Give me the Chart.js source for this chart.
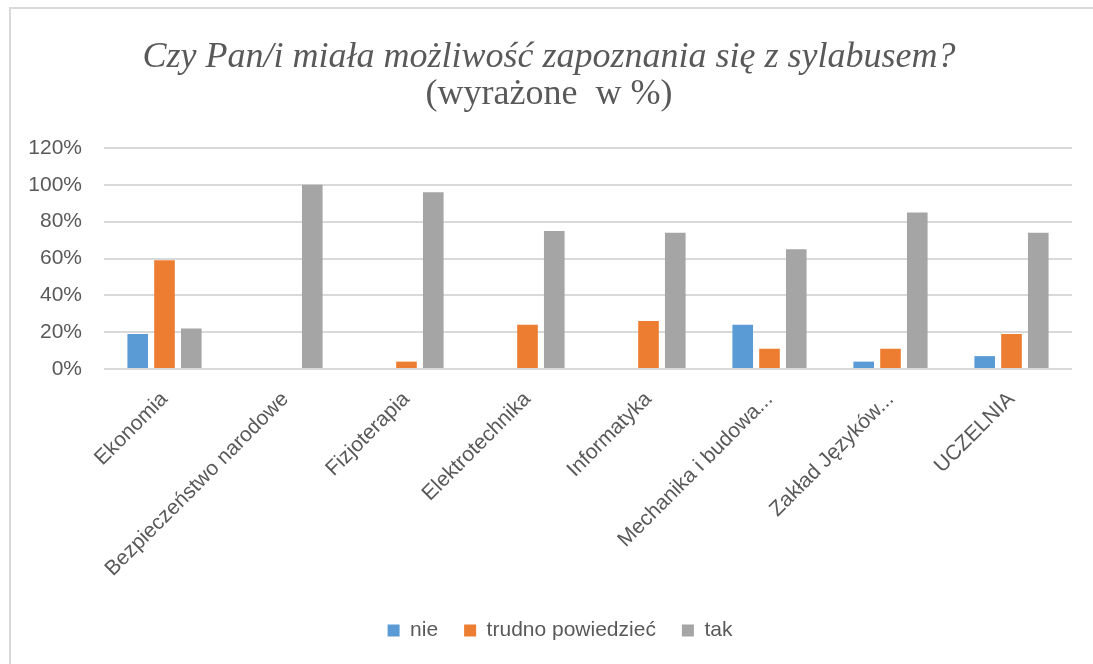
<!DOCTYPE html>
<html>
<head>
<meta charset="utf-8">
<script src="https://cdn.jsdelivr.net/npm/chart.js@4/dist/chart.umd.min.js"></script>
<style>
    html, body { margin: 0; padding: 0; background: #fff; }
    #wrap { position: relative; width: 1093px; height: 664px; overflow: hidden; }
    #frame { position: absolute; left: 9px; top: 7px; width: 1200px; height: 800px;
        border-left: 2px solid #d9d9d9; border-top: 2px solid #d9d9d9; }
    #chart { position: absolute; left: 0; top: 0; }
</style>
</head>
<body>
<div id="wrap">
    <div id="frame"></div>
    <canvas id="chart" width="1093" height="664"></canvas>
</div>
<script>
// chart data (values in %)
const categories = ['Ekonomia', 'Bezpieczeństwo narodowe', 'Fizjoterapia', 'Elektrotechnika',
    'Informatyka', 'Mechanika i budowa...', 'Zakład Języków...', 'UCZELNIA'];
const nie = [19, 0, 0, 0, 0, 24, 4, 7];
const trudno = [59, 0, 4, 24, 26, 11, 11, 19];
const tak = [22, 100, 96, 75, 74, 65, 85, 74];
const yTicks = [0, 20, 40, 60, 80, 100, 120];

const textColor = '#595959';
const gridColor = '#d9d9d9';

// legend in the original sits a little right of the plot centre
const legendShift = {
    id: 'legendShift',
    afterLayout(chart) {
        chart.legend.left += 11;
        chart.legend.right += 11;
    }
};

new Chart(document.getElementById('chart'), {
    type: 'bar',
    data: {
        labels: categories,
        datasets: [
            { label: 'nie', data: nie, backgroundColor: '#5B9BD5' },
            { label: 'trudno powiedzieć', data: trudno, backgroundColor: '#ED7D31' },
            { label: 'tak', data: tak, backgroundColor: '#A5A5A5' }
        ]
    },
    plugins: [legendShift],
    options: {
        responsive: false,
        animation: false,
        categoryPercentage: 0.664,
        barPercentage: 0.77,
        layout: {
            padding: { top: 40, right: 21, bottom: 13, left: 26 }
        },
        plugins: {
            title: {
                display: true,
                text: 'Czy Pan/i miała możliwość zapoznania się z sylabusem?',
                color: textColor,
                font: { family: 'Liberation Serif', size: 36, style: 'italic', weight: 'normal', lineHeight: 1 },
                padding: { top: 0, bottom: 0 }
            },
            subtitle: {
                display: true,
                text: '(wyrażone  w %)',
                color: textColor,
                font: { family: 'Liberation Serif', size: 36, weight: 'normal', lineHeight: 1 },
                padding: { top: 1, bottom: 35 }
            },
            legend: {
                position: 'bottom',
                labels: {
                    color: textColor,
                    font: { family: 'Liberation Sans', size: 21 },
                    boxWidth: 12,
                    boxHeight: 12,
                    padding: 26
                }
            },
            tooltip: { enabled: false }
        },
        scales: {
            x: {
                grid: { display: false },
                border: { display: false },
                ticks: {
                    color: textColor,
                    font: { family: 'Liberation Sans', size: 21 },
                    minRotation: 45,
                    maxRotation: 45,
                    padding: 10,
                    autoSkip: false
                },
                afterFit(scale) { scale.height = 225; }
            },
            y: {
                min: 0,
                max: 120,
                afterBuildTicks(scale) { scale.ticks = yTicks.map(v => ({ value: v })); },
                grid: { color: gridColor, lineWidth: 2, drawTicks: false },
                border: { display: false },
                ticks: {
                    color: textColor,
                    font: { family: 'Liberation Sans', size: 21 },
                    padding: 22,
                    callback: v => v + '%'
                },
                afterFit(scale) { scale.width = 78; }
            }
        }
    }
});
</script>
</body>
</html>
